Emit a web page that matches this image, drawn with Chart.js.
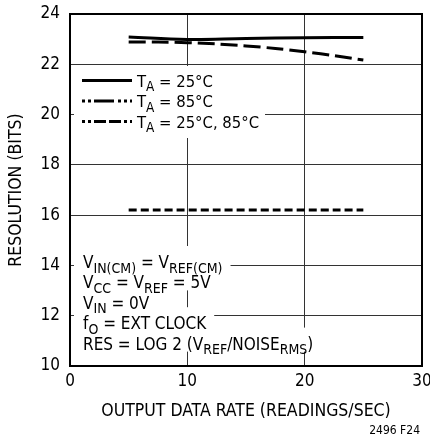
<!DOCTYPE html>
<html>
<head>
<meta charset="utf-8">
<script src="https://cdn.jsdelivr.net/npm/chart.js@4.4.1/dist/chart.umd.min.js"></script>
<style>
html,body{margin:0;padding:0;background:#fff;}
#wrap{width:430px;height:438px;position:relative;}
</style>
</head>
<body>
<div id="wrap"><canvas id="c" width="430" height="438"></canvas></div>
<script>
// ---- data ----
const rates = [5, 10, 15, 20, 25];
const res25C = [23.09, 22.99, 23.03, 23.06, 23.07];
const res85C = [22.89, 22.86, 22.73, 22.50, 22.17];
const res25C85C = [16.2, 16.2, 16.2, 16.2, 16.2];
const xTickValues = [0, 10, 20, 30];
const yTickValues = [10, 12, 14, 16, 18, 20, 22, 24];
const seriesLabels = [
  [["T", "n"], ["A", "s"], [" = 25°C", "n"]],
  [["T", "n"], ["A", "s"], [" = 85°C", "n"]],
  [["T", "n"], ["A", "s"], [" = 25°C, 85°C", "n"]]
];
const conditions = [
  [["V", "n"], ["IN(CM)", "s"], [" = V", "n"], ["REF(CM)", "s"]],
  [["V", "n"], ["CC", "s"], [" = V", "n"], ["REF", "s"], [" = 5V", "n"]],
  [["V", "n"], ["IN", "s"], [" = 0V", "n"]],
  [["f", "n"], ["O", "s"], [" = EXT CLOCK", "n"]],
  [["RES = LOG 2 (V", "n"], ["REF", "s"], ["/NOISE", "n"], ["RMS", "s"], [")", "n"]]
];
const xTitle = "OUTPUT DATA RATE (READINGS/SEC)";
const yTitle = "RESOLUTION (BITS)";
const figId = "2496 F24";

const FAM = "'Liberation Sans Narrow', 'DejaVu Sans Condensed', 'Liberation Sans', sans-serif";
const dashes = [[], [17, 6], [8, 4]];
const legendDashes = [[], [3, 3, 3, 3, 20, 4], [3, 3, 3, 3, 12, 3, 12, 3]];

function richWidth(ctx, parts, n, s) {
  let w = 0;
  for (const [t, k] of parts) {
    ctx.font = (k === "s" ? s : n) + "px " + FAM;
    w += ctx.measureText(t).width;
  }
  return w;
}
function drawRich(ctx, parts, x, y, n, s) {
  ctx.textBaseline = "alphabetic";
  ctx.textAlign = "left";
  ctx.fillStyle = "#000";
  for (const [t, k] of parts) {
    ctx.font = (k === "s" ? s : n) + "px " + FAM;
    ctx.fillText(t, x, k === "s" ? y + 4.5 : y);
    x += ctx.measureText(t).width;
  }
  return x;
}

const boxes = {
  id: "boxes",
  beforeDatasetsDraw(chart) {
    const ctx = chart.ctx;
    const ca = chart.chartArea;
    ctx.save();
    // legend
    const LN = 16.5, LS = 13.5;
    const legX = ca.left + 12, legTextX = ca.left + 67;
    const legBase = [86.5, 107, 127.5];
    let maxW = 0;
    seriesLabels.forEach(p => { maxW = Math.max(maxW, richWidth(ctx, p, LN, LS)); });
    ctx.fillStyle = "#fff";
    ctx.fillRect(ca.left + 4, 66, legTextX + maxW + 6 - (ca.left + 4), 72);
    seriesLabels.forEach((p, i) => {
      const ly = legBase[i] - 6;
      ctx.strokeStyle = "#000";
      ctx.lineWidth = 3;
      ctx.setLineDash(legendDashes[i]);
      ctx.beginPath();
      ctx.moveTo(legX, ly);
      ctx.lineTo(legX + 50, ly);
      ctx.stroke();
      ctx.setLineDash([]);
      drawRich(ctx, p, legTextX, legBase[i], LN, LS);
    });
    // conditions
    const CN = 17, CS = 14;
    const cx = ca.left + 13;
    conditions.forEach((p, i) => {
      const base = 268 + i * 20.4;
      const w = richWidth(ctx, p, CN, CS);
      ctx.fillStyle = "#fff";
      ctx.fillRect(ca.left + 4, base - 22, cx + w + 8 - (ca.left + 4), 24);
    });
    conditions.forEach((p, i) => {
      drawRich(ctx, p, cx, 268 + i * 20.4, CN, CS);
    });
    ctx.restore();
  },
  afterDraw(chart) {
    const ctx = chart.ctx;
    const ca = chart.chartArea;
    ctx.save();
    ctx.strokeStyle = "#000";
    ctx.lineWidth = 2;
    ctx.strokeRect(ca.left, ca.top, ca.right - ca.left, ca.bottom - ca.top);
    ctx.font = "12px " + FAM;
    ctx.fillStyle = "#000";
    ctx.textAlign = "right";
    ctx.textBaseline = "alphabetic";
    ctx.fillText(figId, 420, 434);
    ctx.restore();
  }
};

new Chart(document.getElementById("c"), {
  type: "line",
  data: {
    labels: rates,
    datasets: [res25C, res85C, res25C85C].map((d, i) => ({
      label: seriesLabels[i].map(p => p[0]).join(""),
      data: rates.map((x, j) => ({ x: x, y: d[j] })),
      borderColor: "#000",
      borderWidth: 3,
      borderDash: dashes[i],
      pointRadius: 0,
      tension: 0.4,
      fill: false
    }))
  },
  options: {
    responsive: false,
    animation: false,
    layout: { padding: { top: 14, right: 8, left: 0, bottom: 0 } },
    plugins: { legend: { display: false }, tooltip: { enabled: false } },
    scales: {
      x: {
        type: "linear", min: 0, max: 30,
        afterBuildTicks: s => { s.ticks = xTickValues.map(v => ({ value: v })); },
        afterFit: s => { s.height = 72; s.paddingLeft = 0; s.paddingRight = 0; },
        grid: { color: "#333", lineWidth: 1, drawTicks: false },
        border: { display: false },
        ticks: { color: "#000", padding: 5, font: { family: FAM, size: 17 }, maxRotation: 0 },
        title: { display: true, text: xTitle, color: "#000", font: { family: FAM, size: 17.5 }, padding: { top: 0, bottom: 16 } }
      },
      y: {
        type: "linear", min: 10, max: 24,
        afterBuildTicks: s => { s.ticks = yTickValues.map(v => ({ value: v })); },
        afterFit: s => { s.width = 70; s.paddingTop = 0; s.paddingBottom = 0; },
        grid: { color: "#333", lineWidth: 1, drawTicks: false },
        border: { display: false },
        ticks: { color: "#000", padding: 10, font: { family: FAM, size: 17 } },
        title: { display: true, text: yTitle, color: "#000", font: { family: FAM, size: 17.5 }, padding: { top: 6, bottom: 0 } }
      }
    }
  },
  plugins: [boxes]
});
</script>
</body>
</html>
